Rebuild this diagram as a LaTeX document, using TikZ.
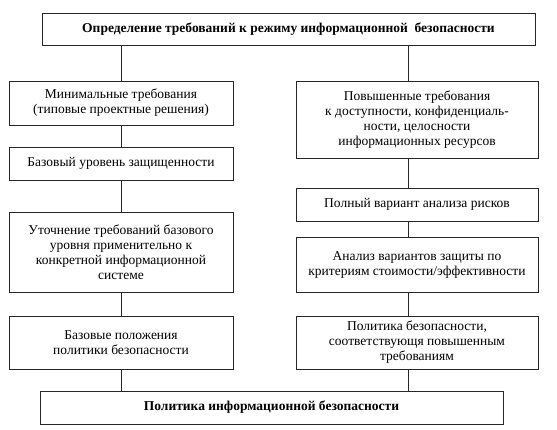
\documentclass[tikz,border=0pt]{standalone}
\usepackage{fontspec}
\setmainfont{Liberation Serif}
\begin{document}
\begin{tikzpicture}[x=1pt,y=-1pt,
  box/.style={draw=black!85, line width=0.8pt, rectangle, inner sep=0pt, align=center,
    font=\fontsize{13.5}{15}\selectfont},
  tbox/.style={box, font=\fontsize{13.5}{15}\selectfont\bfseries},
  link/.style={draw=black!85, line width=0.8pt}]
\useasboundingbox (0,0) rectangle (557,430);
\fill[white] (0,0) rectangle (557,430);
\coordinate (lx) at (121,0);
\coordinate (rx) at (408,0);
\node[tbox, minimum width=493pt, minimum height=32pt] (top) at (288.5,29)
  {Определение требований к режиму информационной\ \ безопасности};
\node[box, minimum width=224pt, minimum height=44pt] (b1l) at (121,103)
  {Минимальные требования\\(типовые проектные решения)};
\node[box, minimum width=242pt, minimum height=77pt] (b1r) at (417,119.5)
  {Повышенные требования\\к доступности, конфиденциаль-\\ности, целосности\\информационных ресурсов};
\node[box, minimum width=224pt, minimum height=33pt] (b2l) at (121,163.5)
  {Базовый уровень защищенности};
\node[box, minimum width=242pt, minimum height=33pt] (b2r) at (417,204.5)
  {Полный вариант анализа рисков};
\node[box, minimum width=224pt, minimum height=80pt] (b3l) at (121,252)
  {Уточнение требований базового\\уровня применительно к\\конкретной информационной\\системе};
\node[box, minimum width=242pt, minimum height=55pt] (b3r) at (417,264.5)
  {Анализ вариантов защиты по\\критериям стоимости/эффективности};
\node[box, minimum width=224pt, minimum height=53pt] (b4l) at (121,342.5)
  {Базовые положения\\политики безопасности};
\node[box, minimum width=242pt, minimum height=53pt] (b4r) at (417,342.5)
  {Политика безопасности,\\соответствующя повышенным\\требованиям};
\node[tbox, minimum width=463pt, minimum height=33pt] (bot) at (271.5,407.5)
  {Политика информационной безопасности};
\draw[link] (top.south -| lx) -- (b1l.north -| lx);
\draw[link] (b1l.south -| lx) -- (b2l.north -| lx);
\draw[link] (b2l.south -| lx) -- (b3l.north -| lx);
\draw[link] (b3l.south -| lx) -- (b4l.north -| lx);
\draw[link] (b4l.south -| lx) -- (bot.north -| lx);
\draw[link] (top.south -| rx) -- (b1r.north -| rx);
\draw[link] (b1r.south -| rx) -- (b2r.north -| rx);
\draw[link] (b2r.south -| rx) -- (b3r.north -| rx);
\draw[link] (b3r.south -| rx) -- (b4r.north -| rx);
\draw[link] (b4r.south -| rx) -- (bot.north -| rx);
\end{tikzpicture}
\end{document}
